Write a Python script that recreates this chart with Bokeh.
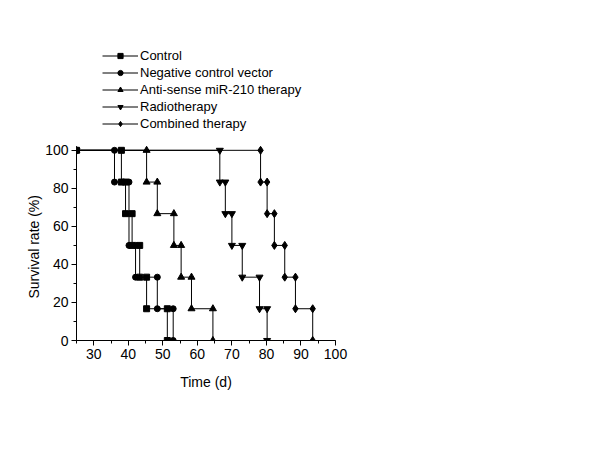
from bokeh.plotting import figure
from bokeh.models import Range1d, Legend, LegendItem, SingleIntervalTicker, Title
from bokeh.embed import file_html
from bokeh.resources import INLINE

# ---- data ----
x_start = 25
start_surv = 100

series_names = ["Control", "Negative control vector", "Anti-sense miR-210 therapy",
                "Radiotherapy", "Combined therapy"]
markers = ["square", "circle", "triangle", "inverted_triangle", "diamond"]

# event times (days) and survival (%) after each event
control_t = [38.0, 39.2, 41.1, 43.3, 45.3, 51.3]
control_s = [83.3, 66.7, 50.0, 33.3, 16.7, 0.0]

negative_t = [36.0, 40.2, 42.1, 48.4, 53.0]
negative_s = [83.3, 50.0, 33.3, 16.7, 0.0]

antisense_t = [45.3, 48.4, 53.2, 55.3, 58.3, 64.5]
antisense_s = [83.3, 66.7, 50.0, 33.3, 16.7, 0.0]

radio_t = [66.5, 68.1, 70.0, 73.0, 78.0, 80.2]
radio_s = [83.3, 66.7, 50.0, 33.3, 16.7, 0.0]

combined_t = [78.3, 80.2, 82.3, 85.3, 88.4, 93.4]
combined_s = [83.3, 66.7, 50.0, 33.3, 16.7, 0.0]

x_ticks_interval = 10
y_ticks_interval = 20


def step_path(times, surv):
    xs, ys = [x_start], [start_surv]
    prev = start_surv
    for t, s in zip(times, surv):
        xs += [t, t]
        ys += [prev, s]
        prev = s
    return xs, ys


all_t = [control_t, negative_t, antisense_t, radio_t, combined_t]
all_s = [control_s, negative_s, antisense_s, radio_s, combined_s]
marker_sizes = {"square": 6, "circle": 6, "triangle": 7,
                "inverted_triangle": 7, "diamond": 8}

# frame extends above the y axis so the legend (inside the frame) is not clipped
p = figure(width=600, height=450, output_backend="svg", toolbar_location=None,
           x_range=Range1d(25, 100), y_range=Range1d(0, 163),
           min_border_left=76, min_border_right=265,
           min_border_top=30, min_border_bottom=110)

p.xgrid.visible = False
p.ygrid.visible = False
p.outline_line_color = None
p.background_fill_color = "white"
p.border_fill_color = "white"

font = "Liberation Sans"
for ax in (p.xaxis[0], p.yaxis[0]):
    ax.axis_line_color = "black"
    ax.axis_line_width = 1
    ax.major_tick_line_color = "black"
    ax.minor_tick_line_color = "black"
    ax.major_tick_out = 5
    ax.major_tick_in = 0
    ax.minor_tick_out = 3
    ax.minor_tick_in = 0
    ax.major_label_text_font = font
    ax.major_label_text_font_size = "14px"
    ax.major_label_text_color = "black"
    ax.axis_label_text_font = font
    ax.axis_label_text_font_size = "14px"
    ax.axis_label_text_font_style = "normal"
    ax.axis_label_text_color = "black"

p.yaxis.bounds = (0, 100)
p.xaxis.ticker = SingleIntervalTicker(interval=x_ticks_interval, num_minor_ticks=2)
p.yaxis.ticker = SingleIntervalTicker(interval=y_ticks_interval, num_minor_ticks=2)
p.xaxis.axis_label = "Time (d)"
p.xaxis.major_label_standoff = 3
p.yaxis.major_label_standoff = 3
p.xaxis.axis_label_standoff = 12

# y axis title, centred on the 0-100 part of the axis
ytitle = Title(text="Survival rate (%)", align="left", offset=42, standoff=2,
               text_font=font, text_font_size="14px", text_font_style="normal",
               text_color="black")
p.add_layout(ytitle, "left")

items = [None] * 5
for i in reversed(range(5)):
    xs, ys = step_path(all_t[i], all_s[i])
    lr = p.line(xs, ys, line_color="black", line_width=1)
    sr = p.scatter(xs, ys, marker=markers[i], size=marker_sizes[markers[i]],
                   fill_color="black", line_color="black")
    items[i] = LegendItem(label=series_names[i], renderers=[lr, sr])

legend = Legend(items=items, location=(26, 208), orientation="vertical",
                glyph_width=36, glyph_height=13, label_height=17, spacing=0,
                padding=0, margin=0, label_standoff=2,
                label_text_font=font, label_text_font_size="13px",
                label_text_color="black",
                border_line_alpha=0, background_fill_alpha=0)
p.add_layout(legend, "center")

open("out.html", "w").write(file_html(p, INLINE))
